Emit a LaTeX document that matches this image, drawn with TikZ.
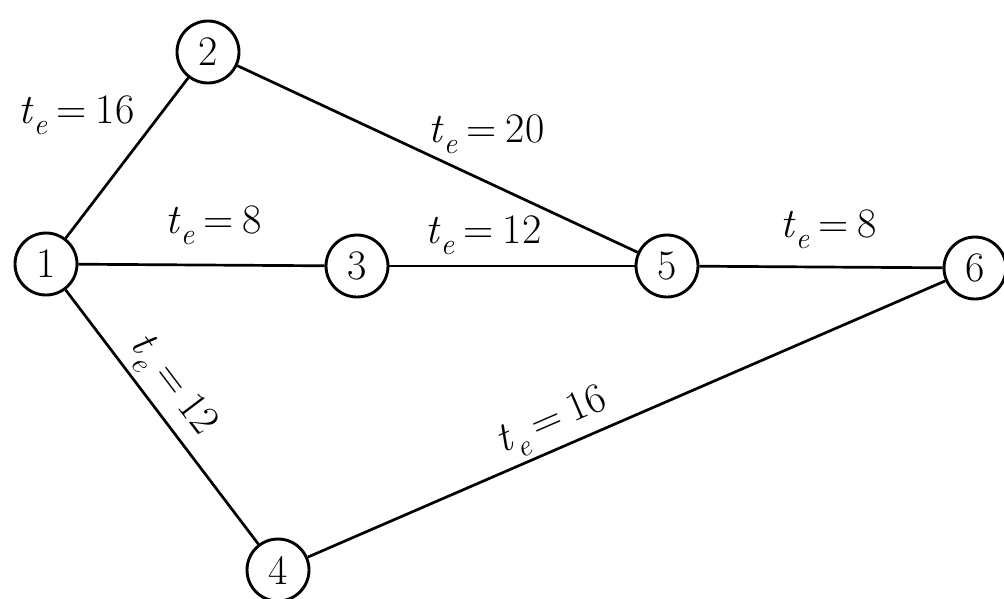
\documentclass[tikz,border=0pt]{standalone}
\usepackage{fontspec}
\newcommand\te[1]{\textit{t}\raisebox{-0.28em}{\fontsize{30}{32}\selectfont\textit{e}}\hspace{0.22em}=\hspace{0.22em}#1}
\begin{document}
\begin{tikzpicture}[x=1pt,y=-1pt,
  vtx/.style={circle,draw,line width=2.9pt,minimum size=62pt,inner sep=0pt,fill=white,font=\fontsize{42}{48}\selectfont},
  edge/.style={line width=2.7pt},
  lbl/.style={font=\fontsize{42}{48}\selectfont,inner sep=0pt}]
\useasboundingbox (0,0) rectangle (1004,598);
\node[vtx] (n1) at (46,264) {1};
\node[vtx] (n2) at (208,52) {2};
\node[vtx] (n3) at (357,266) {3};
\node[vtx] (n5) at (667,266) {5};
\node[vtx] (n6) at (975,268) {6};
\node[vtx] (n4) at (278,570) {4};
\draw[edge] (n1) -- (n2);
\draw[edge] (n1) -- (n3);
\draw[edge] (n2) -- (n5);
\draw[edge] (n3) -- (n5);
\draw[edge] (n5) -- (n6);
\draw[edge] (n1) -- node[lbl,sloped,above=5pt,pos=0.44] (l14) {\te{12}} (n4);
\draw[edge] (n4) -- node[lbl,sloped,above=4pt,pos=0.40] (l46) {\te{16}} (n6);
\node[lbl,anchor=base west] (l12) at (18,123) {\te{16}};
\node[lbl,anchor=base west] (l13) at (165,233) {\te{8}};
\node[lbl,anchor=base west] (l25) at (428,142) {\te{20}};
\node[lbl,anchor=base west] (l35) at (425,243) {\te{12}};
\node[lbl,anchor=base west] (l56) at (780,237) {\te{8}};
\end{tikzpicture}
\end{document}
